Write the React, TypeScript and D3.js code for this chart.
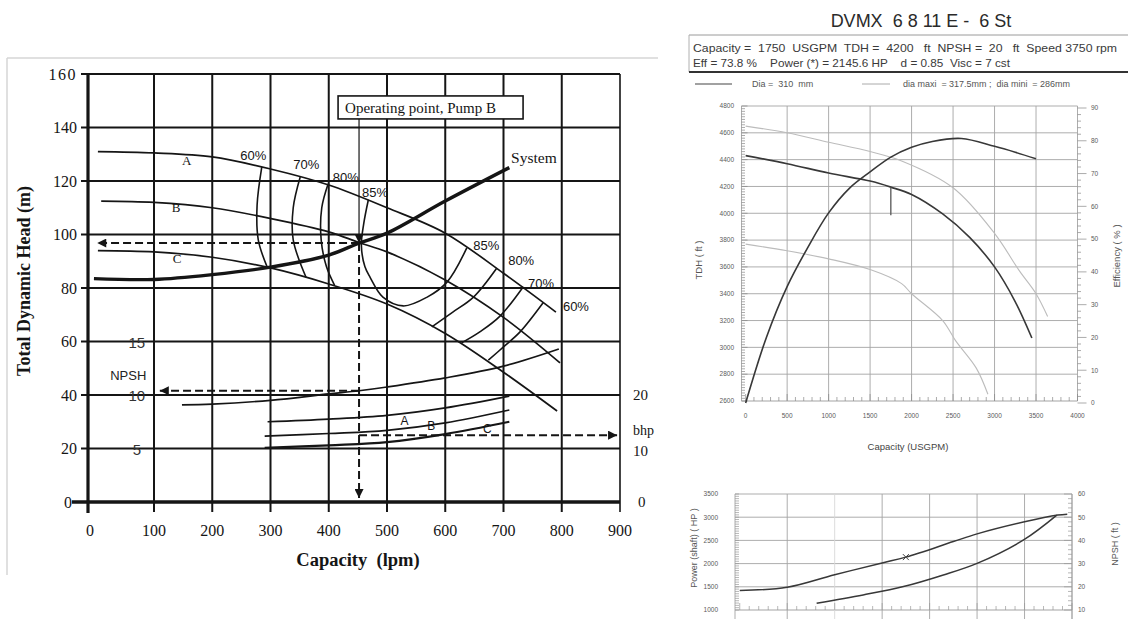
import React from "react";
import * as d3 from "d3";

type P = [number, number];

// ---------- left chart : capacity (lpm) vs total dynamic head (m)
const capacityTicks = [0, 100, 200, 300, 400, 500, 600, 700, 800, 900];
const headTicks = [0, 20, 40, 60, 80, 100, 120, 140, 160];
const npshTicks = [5, 10, 15];
const bhpTicks = [0, 10, 20];

const pumpA: P[] = [[15, 131], [100, 130.5], [200, 129], [300, 124.5], [400, 118.5], [500, 110], [600, 100.5], [700, 85.5], [790, 71]];
const pumpB: P[] = [[20, 112.5], [100, 112], [200, 110], [300, 106], [400, 101], [452, 97], [500, 93.5], [600, 83], [700, 69], [797, 52]];
const pumpC: P[] = [[15, 94], [100, 93.5], [200, 91.5], [300, 87.5], [400, 81.5], [500, 74], [600, 63], [700, 48.5], [792, 34]];
const systemCurve: P[] = [[9, 83.5], [100, 83.2], [200, 85], [300, 87.8], [400, 92.3], [452, 96.8], [500, 100.5], [600, 112.5], [710, 125]];
const npshCurve: P[] = [[148, 9.08], [200, 9.15], [300, 9.5], [400, 10.1], [452, 10.4], [500, 10.75], [600, 11.6], [700, 12.7], [795, 14.3]];
const bhpA: P[] = [[295, 15], [400, 15.5], [500, 16.2], [600, 17.6], [710, 19.8]];
const bhpB: P[] = [[290, 12.3], [400, 12.8], [500, 13.4], [600, 14.8], [710, 17.2]];
const bhpC: P[] = [[290, 10.1], [400, 10.6], [500, 11.2], [600, 12.7], [710, 15]];

const eff60Left: P[] = [[285, 125.2], [277, 111], [279, 98], [294, 88]];
const eff70Left: P[] = [[351, 121.5], [339, 110], [339, 98], [361, 84]];
const eff80Left: P[] = [[399, 119], [388, 110], [387, 98], [396, 88], [410, 81]];
const eff85: P[] = [[468, 113], [460, 104], [456, 96], [462, 88], [471, 84], [493, 76.6], [528, 73.3], [569, 76.6], [603, 82.2], [637, 95]];
const eff80Right: P[] = [[688, 87.3], [648, 76.5], [613, 71], [577, 65.5]];
const eff70Right: P[] = [[734, 80.5], [694, 69.5], [660, 63.7], [628, 59.5]];
const eff60Right: P[] = [[768, 74.5], [728, 63.5], [700, 58], [674, 53]];

const operatingPoint = { capacity: 452, head: 96.8, npsh: 10.4, bhp: 12.5 };

// ---------- right chart : DVMX 6 8 11 E - 6 St
const usgpmTicks = [0, 500, 1000, 1500, 2000, 2500, 3000, 3500, 4000];
const tdhTicks = [2600, 2800, 3000, 3200, 3400, 3600, 3800, 4000, 4200, 4400, 4600, 4800];
const effTicks = [0, 10, 20, 30, 40, 50, 60, 70, 80, 90];
const headDia310: P[] = [[0, 4430], [500, 4370], [1000, 4300], [1500, 4240], [1750, 4195], [2000, 4140], [2375, 3995], [2700, 3820], [3000, 3600], [3250, 3340], [3450, 3070]];
const effDia310: P[] = [[0, 0], [250, 20], [500, 35.5], [750, 47.5], [1000, 58], [1250, 65.5], [1500, 70.5], [1750, 75], [2000, 78], [2250, 79.8], [2600, 80.7], [3000, 78.3], [3250, 76.5], [3500, 74.5]];
const headDiaMax: P[] = [[0, 4650], [500, 4600], [1000, 4530], [1500, 4460], [1880, 4390], [2500, 4190], [3000, 3850], [3300, 3570], [3500, 3400], [3640, 3230]];
const headDiaMin: P[] = [[0, 3770], [500, 3720], [1000, 3660], [1500, 3580], [1880, 3475], [2000, 3400], [2375, 3200], [2530, 3050], [2780, 2845], [2920, 2650]];
const duty = { capacity: 1750, tdh: 4195, power: 2140 };

const lowerCapTicks = [0, 500, 1000, 1500, 2000, 2500, 3000, 3500];
const powerTicks = [1000, 1500, 2000, 2500, 3000, 3500];
const npshFtTicks = [10, 20, 30, 40, 50, 60];
const powerCurve: P[] = [[0, 1420], [500, 1490], [1000, 1760], [1500, 2015], [1750, 2140], [2250, 2475], [2500, 2640], [3000, 2900], [3350, 3045], [3450, 3065]];
const npshFtCurve: P[] = [[810, 12.9], [1300, 16.5], [1725, 20.1], [2145, 25.1], [2500, 30.1], [2990, 40.2], [3340, 50.9]];

const titleText = "DVMX  6 8 11 E -  6 St";
const headerLine1 = "Capacity =  1750  USGPM  TDH =  4200   ft  NPSH =  20   ft  Speed 3750 rpm";
const headerLine2 = "Eff = 73.8 %    Power (*) = 2145.6 HP    d = 0.85  Visc = 7 cst";

const serif = '"Liberation Serif", "Times New Roman", serif';
const sans = '"Liberation Sans", Arial, sans-serif';

const mk = (xs: any, ys: any, curve: any = d3.curveCatmullRom) =>
  (pts: P[]) => d3.line<P>().x((d) => xs(d[0])).y((d) => ys(d[1])).curve(curve)(pts) || "";

export default function App() {
  // left chart scales
  const xL = d3.scaleLinear().domain([0, 100, 900]).range([88, 154, 620]);
  const yL = d3.scaleLinear().domain([0, 160]).range([502, 74]);
  const yNpsh = d3.scaleLinear().domain([0, 40]).range([502, 74]);
  const yBhp = d3.scaleLinear().domain([0, 80]).range([502, 74]);
  const lineL = mk(xL, yL);
  const lineNpsh = mk(xL, yNpsh);
  const lineBhp = mk(xL, yBhp);
  const ink = "#151515";

  // right top scales
  const xT = d3.scaleLinear().domain([-50, 4000]).range([741.5, 1077.5]);
  const yT = d3.scaleLinear().domain([2600, 4800]).range([401, 106]);
  const eT = d3.scaleLinear().domain([0, 90]).range([403, 108]);
  const lineT = mk(xT, yT);
  const lineE = mk(xT, eT);

  // right bottom scales
  const xB = d3.scaleLinear().domain([-50, 3500]).range([735, 1072]);
  const yB = d3.scaleLinear().domain([1000, 3500]).range([610, 494]);
  const nB = d3.scaleLinear().domain([10, 60]).range([610, 494]);
  const lineP = mk(xB, yB);
  const lineN = mk(xB, nB);

  const op = operatingPoint;
  const opX = xL(op.capacity);
  const grid = "#a4a4a4";
  const curveInk = "#383838";
  const lightCurve = "#bcbcbc";
  const tickText = "#5a5a5a";

  const effCurves = [eff60Left, eff70Left, eff80Left, eff85, eff80Right, eff70Right, eff60Right];
  const effLabels: [string, number, number][] = [
    ["60%", 248, 127.9], ["70%", 339, 124.5], ["80%", 407, 119.6], ["85%", 457, 114],
    ["85%", 648, 94.2], ["80%", 708, 88.6], ["70%", 742, 80], ["60%", 802, 71.4],
  ];

  return (
    <svg width={1128} height={619} style={{ position: "absolute", left: 0, top: 0, background: "#fff" }}>
      <defs>
        <marker id="arr" viewBox="0 0 10 10" refX="10" refY="5" markerWidth="12" markerHeight="9" markerUnits="userSpaceOnUse" orient="auto">
          <path d="M0,0L10,5L0,10z" fill={ink} />
        </marker>
      </defs>

      {/* ================= LEFT CHART ================= */}
      <g>
        <line x1={7} x2={658} y1={58} y2={58} stroke="#d6d6d6" strokeWidth={1.5} />
        <line x1={7} x2={7} y1={58} y2={575} stroke="#d6d6d6" strokeWidth={1.5} />

        {headTicks.filter((h) => h > 0).map((h) => (
          <line key={"h" + h} x1={xL(0) - 7} x2={xL(900)} y1={yL(h)} y2={yL(h)} stroke={ink} strokeWidth={2} />
        ))}
        <line x1={xL(0) - 16} x2={xL(900)} y1={yL(0)} y2={yL(0)} stroke={ink} strokeWidth={3.5} />
        {capacityTicks.filter((c) => c > 0).map((c) => (
          <line key={"c" + c} x1={xL(c)} x2={xL(c)} y1={yL(160)} y2={yL(0) + 10} stroke={ink} strokeWidth={c === 900 ? 1.6 : 2} />
        ))}
        <line x1={xL(0)} x2={xL(0)} y1={yL(160) - 1} y2={yL(0) + 11} stroke={ink} strokeWidth={3.2} />

        {headTicks.map((h) => (
          <text key={"hl" + h} x={h === 0 ? 72 : 77} y={yL(h) + 5.5} textAnchor="end" fontFamily={serif} fontSize={16} fill={ink} letterSpacing={h === 160 ? 1.5 : 0}>{h}</text>
        ))}
        {capacityTicks.map((c) => (
          <text key={"cl" + c} x={xL(c) + (c === 0 ? 2 : 0)} y={536} textAnchor="middle" fontFamily={serif} fontSize={16} fill={ink}>{c}</text>
        ))}
        {npshTicks.map((n) => (
          <text key={"nl" + n} x={xL(74)} y={yNpsh(n) + 6} textAnchor="middle" fontFamily={sans} fontSize={15} fill="#333">{n}</text>
        ))}
        <text x={xL(61)} y={380} textAnchor="middle" fontFamily={sans} fontSize={13} fill="#222">NPSH</text>
        {bhpTicks.map((b) => (
          <text key={"bl" + b} x={b === 0 ? 638 : 633} y={yBhp(b) + (b === 10 ? 7 : 5)} fontFamily={serif} fontSize={15} fill={ink}>{b}</text>
        ))}
        <text x={633} y={yBhp(13.3) + 4} fontFamily={serif} fontSize={14} fill={ink}>bhp</text>

        <text transform={`translate(30,${281}) rotate(-90)`} textAnchor="middle" fontFamily={serif} fontWeight="bold" fontSize={18} fill={ink}>Total Dynamic Head (m)</text>
        <text x={358} y={566} textAnchor="middle" fontFamily={serif} fontWeight="bold" fontSize={18.5} fill={ink} style={{ whiteSpace: "pre" }}>Capacity  (lpm)</text>

        {/* pump and system curves */}
        {[pumpA, pumpB, pumpC].map((p, i) => (
          <path key={"p" + i} d={lineL(p)} fill="none" stroke={ink} strokeWidth={1.7} />
        ))}
        <path d={lineL(systemCurve)} fill="none" stroke={ink} strokeWidth={3.4} />
        {effCurves.map((p, i) => (
          <path key={"e" + i} d={lineL(p)} fill="none" stroke={ink} strokeWidth={1.6} />
        ))}
        <path d={lineNpsh(npshCurve)} fill="none" stroke={ink} strokeWidth={1.7} />
        {[bhpA, bhpB, bhpC].map((p, i) => (
          <path key={"b" + i} d={lineBhp(p)} fill="none" stroke={ink} strokeWidth={i === 2 ? 2.2 : 1.7} />
        ))}

        {effLabels.map(([t, c, h], i) => (
          <text key={"el" + i} x={xL(c)} y={yL(h)} fontFamily={sans} fontSize={13} fill={ink}>{t}</text>
        ))}
        <text x={xL(148)} y={yL(126)} fontFamily={serif} fontSize={13} fill={ink}>A</text>
        <text x={xL(130.5)} y={yL(108.4)} fontFamily={serif} fontSize={13} fill={ink}>B</text>
        <text x={xL(132)} y={yL(89.3)} fontFamily={serif} fontSize={13} fill={ink}>C</text>
        <text x={xL(523)} y={yL(28.8)} fontFamily={sans} fontSize={12} fill={ink}>A</text>
        <text x={xL(569)} y={yL(26.9)} fontFamily={sans} fontSize={12} fill={ink}>B</text>
        <text x={xL(665)} y={yL(25.8)} fontFamily={sans} fontSize={12} fill={ink}>C</text>
        <text x={xL(713)} y={yL(126.7)} fontFamily={serif} fontSize={15.5} fill={ink}>System</text>

        {/* operating point annotations */}
        <rect x={xL(416)} y={yL(151.8)} width={185} height={23} fill="#fff" stroke={ink} strokeWidth={1.6} />
        <text x={xL(416) + 7} y={yL(151.8) + 17} fontFamily={serif} fontSize={15} fill={ink}>Operating point, Pump B</text>
        <line x1={opX} x2={opX} y1={yL(151.8) + 23} y2={yL(op.head)} stroke={ink} strokeWidth={1.2} markerEnd="url(#arr)" />
        <g stroke={ink} strokeWidth={2} strokeDasharray="8 4" fill="none">
          <line x1={opX} x2={xL(14)} y1={yL(op.head)} y2={yL(op.head)} markerEnd="url(#arr)" />
          <line x1={opX} x2={opX} y1={yL(op.head)} y2={yL(1.5)} markerEnd="url(#arr)" />
          <line x1={opX} x2={xL(110)} y1={yNpsh(op.npsh)} y2={yNpsh(op.npsh)} markerEnd="url(#arr)" />
          <line x1={opX} x2={xL(895)} y1={yBhp(op.bhp)} y2={yBhp(op.bhp)} markerEnd="url(#arr)" />
        </g>
      </g>

      {/* ================= RIGHT CHART ================= */}
      <g fontFamily={sans}>
        <text x={921} y={27} textAnchor="middle" fontSize={18} fill="#2a2a2a" style={{ whiteSpace: "pre" }}>{titleText}</text>
        <line x1={689} x2={1128} y1={35} y2={35} stroke="#9a9a9a" strokeWidth={1} />
        <line x1={689} x2={689} y1={35} y2={72} stroke="#b0b0b0" strokeWidth={1} />
        <line x1={689} x2={1128} y1={72} y2={72} stroke="#333" strokeWidth={2} />
        <text x={693} y={52} fontSize={11.5} fill="#3a3a3a" textLength={424} lengthAdjust="spacingAndGlyphs" style={{ whiteSpace: "pre" }}>{headerLine1}</text>
        <text x={693} y={67} fontSize={11.5} fill="#3a3a3a" textLength={317} lengthAdjust="spacingAndGlyphs" style={{ whiteSpace: "pre" }}>{headerLine2}</text>

        <line x1={695} x2={732} y1={84} y2={84} stroke="#444" strokeWidth={1.2} />
        <text x={752} y={87} fontSize={9} fill="#555" style={{ whiteSpace: "pre" }}>Dia =  310  mm</text>
        <line x1={862} x2={890} y1={84} y2={84} stroke="#aaa" strokeWidth={1} />
        <text x={903} y={87} fontSize={9} fill="#555" textLength={167} lengthAdjust="spacingAndGlyphs" style={{ whiteSpace: "pre" }}>dia maxi  = 317.5mm ;  dia mini  = 286mm</text>

        {/* top plot grid */}
        {tdhTicks.map((t) => (
          <line key={"tg" + t} x1={xT(-50)} x2={xT(4000)} y1={yT(t)} y2={yT(t)} stroke={grid} strokeWidth={t === 2600 ? 1.2 : 0.9} />
        ))}
        {usgpmTicks.map((c) => (
          <line key={"ug" + c} x1={c === 0 ? xT(-50) : xT(c)} x2={c === 0 ? xT(-50) : xT(c)} y1={yT(4800)} y2={yT(2600)} stroke={grid} strokeWidth={0.9} />
        ))}
        {d3.range(2600, 4801, 20).map((t) => (
          <line key={"tm" + t} x1={xT(-50)} x2={xT(-50) + (t % 200 === 0 ? 6 : 3.5)} y1={yT(t)} y2={yT(t)} stroke="#888" strokeWidth={0.7} />
        ))}
        {d3.range(0, 91, 2).map((e) => (
          <line key={"em" + e} x1={xT(4000)} x2={xT(4000) + (e % 10 === 0 ? 9 : 3.5)} y1={eT(e)} y2={eT(e)} stroke="#888" strokeWidth={0.7} />
        ))}
        {d3.range(0, 4001, 100).map((c) => (
          <line key={"cm" + c} x1={xT(c)} x2={xT(c)} y1={yT(2600)} y2={yT(2600) - (c % 500 === 0 ? 7 : 4)} stroke="#888" strokeWidth={0.7} />
        ))}
        {tdhTicks.map((t) => (
          <text key={"tl" + t} x={734} y={yT(t) + 2.3} textAnchor="end" fontSize={6.5} fill={tickText}>{t}</text>
        ))}
        {effTicks.map((e) => (
          <text key={"etl" + e} x={1091} y={eT(e) + 2.3} fontSize={6.5} fill={tickText}>{e}</text>
        ))}
        {usgpmTicks.map((c) => (
          <text key={"ul" + c} x={xT(c)} y={418} textAnchor="middle" fontSize={6.5} fill={tickText}>{c}</text>
        ))}
        <text x={908} y={450} textAnchor="middle" fontSize={9.5} fill="#444">Capacity (USGPM)</text>
        <text transform="translate(702,260) rotate(-90)" textAnchor="middle" fontSize={9.5} fill="#555">TDH ( ft )</text>
        <text transform="translate(1120,256) rotate(-90)" textAnchor="middle" fontSize={9.5} fill="#555">Efficiency ( % )</text>

        <path d={lineT(headDiaMax)} fill="none" stroke={lightCurve} strokeWidth={1.1} />
        <path d={lineT(headDiaMin)} fill="none" stroke={lightCurve} strokeWidth={1.1} />
        <path d={lineT(headDia310)} fill="none" stroke={curveInk} strokeWidth={1.6} />
        <path d={lineE(effDia310)} fill="none" stroke={curveInk} strokeWidth={1.6} />
        <line x1={xT(duty.capacity)} x2={xT(duty.capacity)} y1={yT(duty.tdh)} y2={yT(3985)} stroke="#555" strokeWidth={1.3} />

        {/* bottom plot */}
        {powerTicks.map((p) => (
          <line key={"pg" + p} x1={xB(-50)} x2={xB(3500)} y1={yB(p)} y2={yB(p)} stroke={grid} strokeWidth={p === 1000 ? 1.2 : 0.9} />
        ))}
        {lowerCapTicks.map((c) => (
          <line key={"lg" + c} x1={c === 0 ? xB(-50) : xB(c)} x2={c === 0 ? xB(-50) : xB(c)} y1={yB(3500)} y2={619} stroke={c === 1000 ? "#d8d8d8" : grid} strokeWidth={0.9} />
        ))}
        <line x1={xB(3500)} x2={xB(3500)} y1={yB(3500)} y2={619} stroke={grid} strokeWidth={0.9} />
        {d3.range(1000, 3501, 50).map((p) => (
          <line key={"pm" + p} x1={xB(-50)} x2={xB(-50) + 4} y1={yB(p)} y2={yB(p)} stroke="#999" strokeWidth={0.7} />
        ))}
        {d3.range(10, 61, 2).map((n) => (
          <line key={"nm" + n} x1={xB(3500)} x2={xB(3500) - (n % 10 === 0 ? 8 : 4)} y1={nB(n)} y2={nB(n)} stroke="#999" strokeWidth={0.7} />
        ))}
        {d3.range(0, 3501, 100).map((c) => (
          <line key={"bm" + c} x1={xB(c)} x2={xB(c)} y1={yB(1000)} y2={yB(1000) - (c % 500 === 0 ? 7 : 4)} stroke="#999" strokeWidth={0.7} />
        ))}
        {powerTicks.map((p) => (
          <text key={"pl" + p} x={718} y={yB(p) + 2.3} textAnchor="end" fontSize={6.5} fill={tickText}>{p}</text>
        ))}
        {npshFtTicks.map((n) => (
          <text key={"npl" + n} x={1078} y={nB(n) + 2.3} fontSize={6.5} fill={tickText}>{n}</text>
        ))}
        <text transform="translate(697,548) rotate(-90)" textAnchor="middle" fontSize={9} fill="#555">Power (shaft) ( HP )</text>
        <text transform="translate(1118,544) rotate(-90)" textAnchor="middle" fontSize={9} fill="#555">NPSH ( ft )</text>

        <path d={lineP(powerCurve)} fill="none" stroke={curveInk} strokeWidth={1.5} />
        <path d={lineN(npshFtCurve)} fill="none" stroke={curveInk} strokeWidth={1.5} />
        <path d={`M${xB(duty.capacity) - 3},${yB(duty.power) - 3}l6,6m0,-6l-6,6`} stroke="#444" strokeWidth={1} />
      </g>
    </svg>
  );
}
